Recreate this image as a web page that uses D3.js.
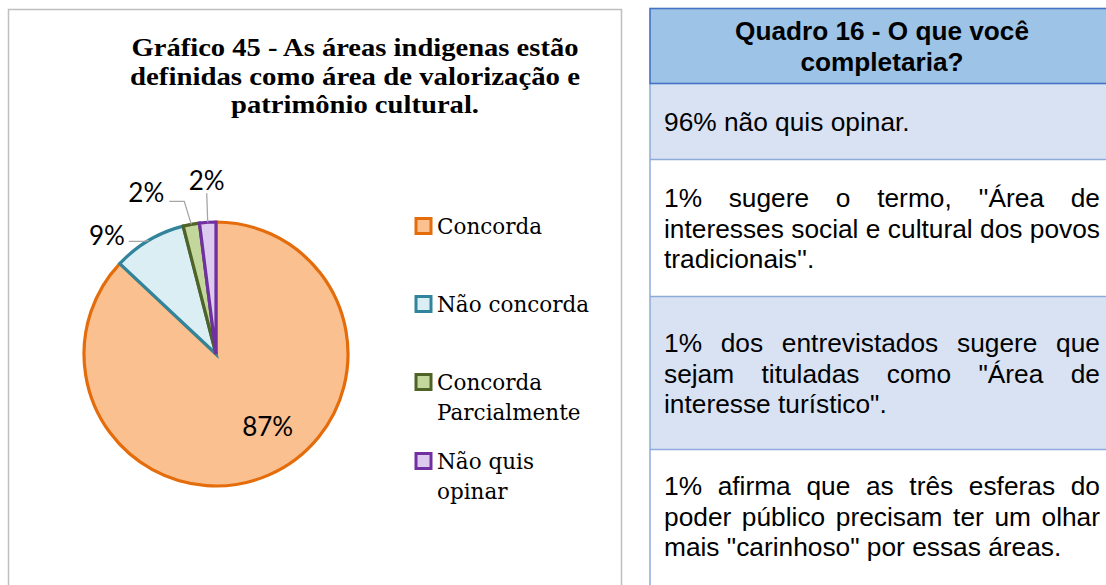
<!DOCTYPE html>
<html>
<head>
<meta charset="utf-8">
<script src="https://cdn.jsdelivr.net/npm/d3@7"></script>
<style>
  html, body { margin: 0; padding: 0; background: #fff; }
  svg { display: block; }
</style>
</head>
<body>
<svg id="chart" width="1106" height="585"></svg>
<script>
// ---- Data ----
const categories = ["Concorda", "Não concorda", "Concorda Parcialmente", "Não quis opinar"];
const values = [87, 9, 2, 2];
const legendLines = [["Concorda"], ["Não concorda"], ["Concorda", "Parcialmente"], ["Não quis", "opinar"]];
const fills = ["#FAC090", "#DBEEF4", "#C3D69B", "#DCCBEE"];
const strokes = ["#E46C0A", "#31849B", "#4F6228", "#7030A0"];
const titleLines = ["Gráfico 45 - As áreas indigenas estão", "definidas como área de valorização e", "patrimônio cultural."];

const tableTitle = ["Quadro 16 - O que você", "completaria?"];
const tableRows = [
  ["96% não quis opinar."],
  ["1% sugere o termo, ''Área de", "interesses social e cultural dos povos", "tradicionais''."],
  ["1% dos entrevistados sugere que", "sejam tituladas como \"Área de", "interesse turístico\"."],
  ["1% afirma que as três esferas do", "poder público precisam ter um olhar", "mais \"carinhoso\" por essas áreas."]
];

const svg = d3.select("#chart");

// ---- Left panel: pie chart ----
svg.append("rect").attr("x", 8.5).attr("y", 9.5).attr("width", 613).attr("height", 600)
  .attr("fill", "#fff").attr("stroke", "#BFBFBF").attr("stroke-width", 1.5);

const serif = "'DejaVu Serif', 'Liberation Serif', serif";
const titleFont = "'Liberation Serif', 'DejaVu Serif', serif";
const title = svg.append("text").attr("font-family", titleFont).attr("font-weight", "bold")
  .attr("font-size", 25.5).attr("fill", "#000").attr("text-anchor", "middle");
const titleW = [447, 450, 248];
titleLines.forEach((t, i) => {
  title.append("tspan").attr("x", 355).attr("y", 56 + i * 28.5).text(t)
    .attr("textLength", titleW[i]).attr("lengthAdjust", "spacingAndGlyphs");
});

const cx = 216, cy = 354, R = 132;
const pie = d3.pie().sort(null).value(d => d)(values);
const arc = d3.arc().innerRadius(0).outerRadius(R);
const g = svg.append("g").attr("transform", `translate(${cx},${cy})`);

g.selectAll("path.slice").data(pie).join("path")
  .attr("class", "slice")
  .attr("d", arc)
  .attr("fill", (d, i) => fills[i])
  .attr("stroke", (d, i) => strokes[i])
  .attr("stroke-width", 3.2)
  .attr("stroke-linejoin", "miter");

// Data labels
const sans = "Lato, 'Liberation Sans', sans-serif";
const fmt = v => v + "%";
const inner = d3.arc().innerRadius(R * 0.68).outerRadius(R * 0.68);
const lblPos = [
  {inside: true, dx: 16, dy: -9},
  {legs: [[-5, 1], [-20, 1]], anchor: "end", tx: -4, ty: -5},
  {legs: [[-7, -23], [-22, -23]], anchor: "end", tx: -5, ty: -8},
  {legs: [[-1, -29]], anchor: "middle", tx: 0, ty: -3}
];
const edge = d3.arc().innerRadius(R).outerRadius(R);
pie.forEach((d, i) => {
  const p = lblPos[i];
  if (p.inside) {
    const [x, y] = inner.centroid(d);
    g.append("text").attr("x", x + p.dx).attr("y", y + p.dy).attr("dy", "0.35em")
      .attr("text-anchor", "middle").attr("font-family", sans).attr("font-size", 26)
      .attr("fill", "#000").text(fmt(values[i]));
    return;
  }
  const [ex, ey] = edge.centroid(d);
  const pts = [[ex, ey]].concat(p.legs.map(([lx, ly]) => [ex + lx, ey + ly]));
  g.append("path").attr("d", d3.line()(pts)).attr("fill", "none")
    .attr("stroke", "#A6A6A6").attr("stroke-width", 1.3);
  const last = pts[pts.length - 1];
  g.append("text").attr("x", last[0] + p.tx).attr("y", last[1] + p.ty)
    .attr("dy", p.anchor === "middle" ? "0" : "0.35em")
    .attr("text-anchor", p.anchor).attr("font-family", sans).attr("font-size", 26)
    .attr("fill", "#000").text(fmt(values[i]));
});

// Legend
const legendY = [226, 304, 382, 461];
const leg = svg.append("g");
categories.forEach((c, i) => {
  leg.append("rect").attr("x", 416).attr("y", legendY[i] - 7.5).attr("width", 15).attr("height", 15)
    .attr("fill", fills[i]).attr("stroke", strokes[i]).attr("stroke-width", 3);
  const t = leg.append("text").attr("font-family", serif).attr("font-size", 21.5).attr("fill", "#000");
  legendLines[i].forEach((line, j) => {
    t.append("tspan").attr("x", 437).attr("y", legendY[i] + 7.5 + j * 30).text(line);
  });
});

// ---- Right panel: table ----
const tx0 = 650, tx1 = 1110;
const rowEdges = [8.5, 83.5, 159.5, 296.5, 449.5, 620];
const rowFill = ["#9DC3E6", "#D9E2F3", "#FFFFFF", "#D9E2F3", "#FFFFFF"];
const tbl = svg.append("g");
rowFill.forEach((f, i) => {
  tbl.append("rect").attr("x", tx0).attr("y", rowEdges[i]).attr("width", tx1 - tx0)
    .attr("height", rowEdges[i + 1] - rowEdges[i]).attr("fill", f);
});
tbl.append("line").attr("x1", tx0).attr("x2", tx0).attr("y1", rowEdges[1]).attr("y2", 620)
  .attr("stroke", "#8EAADB").attr("stroke-width", 1.5);
rowEdges.slice(2, 5).forEach(y => {
  tbl.append("line").attr("x1", tx0).attr("x2", tx1).attr("y1", y).attr("y2", y)
    .attr("stroke", "#8EAADB").attr("stroke-width", 1.5);
});
tbl.append("rect").attr("x", tx0).attr("y", rowEdges[0]).attr("width", tx1 - tx0)
  .attr("height", rowEdges[1] - rowEdges[0]).attr("fill", "none")
  .attr("stroke", "#4472C4").attr("stroke-width", 1.6);

const arial = "Arial, 'Liberation Sans', sans-serif";
const head = tbl.append("text").attr("font-family", arial).attr("font-weight", "bold")
  .attr("font-size", 26.2).attr("text-anchor", "middle").attr("fill", "#000");
tableTitle.forEach((t, i) => head.append("tspan").attr("x", 882).attr("y", 40 + i * 30.5).text(t));

// justified paragraphs (last line left-aligned)
const textX = 664, textW = 436, lineH = 30.5, fs = 26.3;
const firstBase = [131, 207, 352, 495];
const measure = tbl.append("text").attr("font-family", arial).attr("font-size", fs);
const w = s => { measure.text(s); return measure.node().getComputedTextLength(); };
tableRows.forEach((lines, r) => {
  lines.forEach((line, li) => {
    const y = firstBase[r] + li * lineH;
    const words = line.split(" ");
    if (li === lines.length - 1 || words.length === 1) {
      tbl.append("text").attr("x", textX).attr("y", y).attr("font-family", arial)
        .attr("font-size", fs).attr("fill", "#000").text(line);
    } else {
      const widths = words.map(w);
      const gap = (textW - d3.sum(widths)) / (words.length - 1);
      let x = textX;
      words.forEach((wd, k) => {
        tbl.append("text").attr("x", x).attr("y", y).attr("font-family", arial)
          .attr("font-size", fs).attr("fill", "#000").text(wd);
        x += widths[k] + gap;
      });
    }
  });
});
measure.remove();
</script>
</body>
</html>
